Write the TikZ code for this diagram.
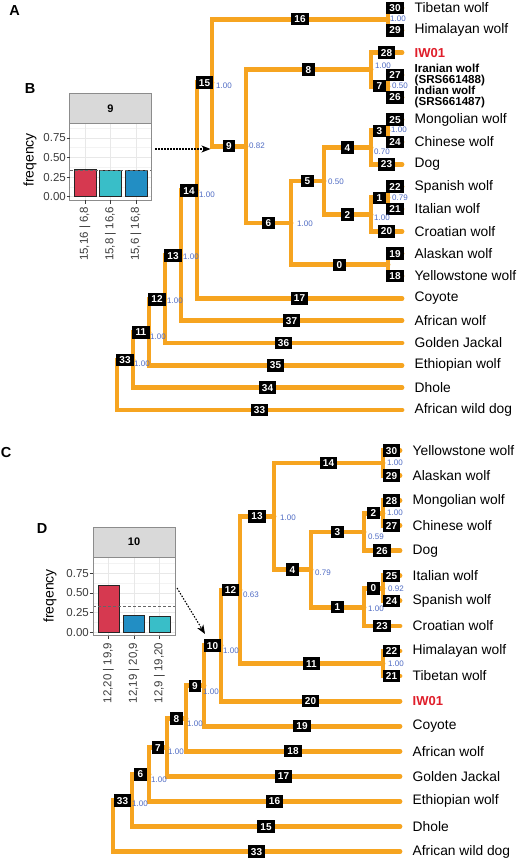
\documentclass[tikz,border=0pt]{standalone}
\usepackage{fontspec}
\setmainfont{Liberation Sans}
\usetikzlibrary{arrows.meta}
\definecolor{branchc}{RGB}{246,164,32}
\definecolor{supc}{RGB}{80,108,196}
\definecolor{iwred}{RGB}{224,30,42}
\definecolor{barred}{RGB}{214,57,80}
\definecolor{barcyan}{RGB}{57,190,200}
\definecolor{barblue}{RGB}{34,142,196}
\definecolor{stripc}{RGB}{217,217,217}
\definecolor{gridc}{RGB}{232,232,232}
\definecolor{gridm}{RGB}{243,243,243}
\definecolor{framec}{RGB}{140,140,140}
\definecolor{axc}{RGB}{60,60,60}
\pgfdeclarelayer{back}
\pgfdeclarelayer{bg}
\pgfsetlayers{back,bg,main}
\newcommand\fss[2]{\fontsize{#1}{#2}\selectfont}
\newcommand\edg[3]{%
  \begin{pgfonlayer}{bg}\draw[branch] (#1) |- (#2);\end{pgfonlayer}%
  \path (#1 |- #2) -- (#2) node[midway, ebox] (L#2) {#3};}
\newcommand\tipl[3][]{\node[tiplab,#1] (T#2) at ([xshift=12.5pt]#2) {#3};}
\tikzset{
  branch/.style={draw=branchc, line width=4.8pt, line cap=round, line join=miter},
  ebox/.style={fill=black, text=white, font=\bfseries\fss{10}{10}, inner xsep=3.3pt, inner ysep=0pt, minimum height=12.5pt, text height=7.2pt, text depth=0pt},
  sup/.style={text=supc, font=\fss{8}{8}, inner sep=0pt, anchor=west},
  tiplab/.style={font=\fss{13.8}{14}, inner sep=0pt, anchor=west},
  iwlab/.style={text=iwred, font=\bfseries\fss{13}{13}},
  acclab/.style={font=\bfseries\fss{11.6}{11}, align=left},
  axlab/.style={text=axc, font=\fss{11.5}{11.5}, inner sep=0pt},
  ylab/.style={font=\fss{14}{14}, inner sep=0pt, rotate=90},
  striplab/.style={font=\bfseries\fss{11}{11}, inner sep=0pt},
  panel/.style={font=\bfseries\fss{14.5}{14.5}, inner sep=0pt},
  bar/.style={draw=black!85, line width=0.8pt},
  refline/.style={draw=black!60, line width=0.8pt, dash pattern=on 3pt off 2pt},
  gridmaj/.style={draw=gridc, line width=0.7pt},
  gridmin/.style={draw=gridm, line width=0.4pt},
  frame/.style={draw=framec, line width=0.6pt},
  tick/.style={draw=axc, line width=0.6pt},
  dotarrow/.style={draw=black, line width=1.1pt, dash pattern=on 1.5pt off 1.5pt, -{Stealth[length=9pt,width=7pt,inset=2.5pt]}}
}
\begin{document}
\begin{tikzpicture}[x=1pt,y=-1pt]
\useasboundingbox (0,0) rectangle (520,861);
\begin{pgfonlayer}{back}\fill[white] (0,0) rectangle (520,861);\end{pgfonlayer}

% ================= Tree A =================
\coordinate (aTib) at (402,8.0);
\coordinate (aHim) at (402,30.33);
\coordinate (aIW)  at (402,52.67);
\coordinate (aIra) at (402,75.0);
\coordinate (aInd) at (402,97.33);
\coordinate (aMon) at (402,119.67);
\coordinate (aChi) at (402,142.0);
\coordinate (aDog) at (402,164.33);
\coordinate (aSpa) at (402,186.67);
\coordinate (aIta) at (402,209.0);
\coordinate (aCro) at (402,231.33);
\coordinate (aAla) at (402,253.67);
\coordinate (aYel) at (402,276.0);
\coordinate (aCoy) at (402,298.33);
\coordinate (aAfw) at (402,320.67);
\coordinate (aGJ)  at (402,343.0);
\coordinate (aEth) at (402,365.33);
\coordinate (aDho) at (402,387.67);
\coordinate (aAWD) at (402,410.0);

\coordinate (a7)  at (388,19.17);
\coordinate (a17) at (388,86.17);
\coordinate (a9)  at (371,69.42);
\coordinate (a15) at (388,130.83);
\coordinate (a13) at (371,147.58);
\coordinate (a16) at (388,197.83);
\coordinate (a14) at (371,214.58);
\coordinate (a11) at (324,181.08);
\coordinate (a12) at (388,264.83);
\coordinate (a10) at (291,222.96);
\coordinate (a8)  at (246,146.19);
\coordinate (a6)  at (212,82.68);
\coordinate (a5)  at (197,190.5);
\coordinate (a4)  at (181,255.6);
\coordinate (a3)  at (165,299.3);
\coordinate (a2)  at (149,332.3);
\coordinate (a1)  at (133,360.0);
\coordinate (a0)  at (117,385.0);

\edg{a0}{a1}{33}
\edg{a0}{aAWD}{33}
\edg{a1}{a2}{11}
\edg{a1}{aDho}{34}
\edg{a2}{a3}{12}
\edg{a2}{aEth}{35}
\edg{a3}{a4}{13}
\edg{a3}{aGJ}{36}
\edg{a4}{a5}{14}
\edg{a4}{aAfw}{37}
\edg{a5}{a6}{15}
\edg{a5}{aCoy}{17}
\edg{a6}{a7}{16}
\edg{a6}{a8}{9}
\edg{a7}{aTib}{30}
\edg{a7}{aHim}{29}
\edg{a8}{a9}{8}
\edg{a8}{a10}{6}
\edg{a9}{aIW}{28}
\edg{a9}{a17}{7}
\edg{a17}{aIra}{27}
\edg{a17}{aInd}{26}
\edg{a10}{a11}{5}
\edg{a10}{a12}{0}
\edg{a12}{aAla}{19}
\edg{a12}{aYel}{18}
\edg{a11}{a13}{4}
\edg{a11}{a14}{2}
\edg{a13}{a15}{3}
\edg{a13}{aDog}{23}
\edg{a15}{aMon}{25}
\edg{a15}{aChi}{24}
\edg{a14}{a16}{1}
\edg{a14}{aCro}{20}
\edg{a16}{aSpa}{22}
\edg{a16}{aIta}{21}

\tipl{aTib}{Tibetan wolf}
\tipl{aHim}{Himalayan wolf}
\tipl[iwlab]{aIW}{IW01}
\tipl[acclab]{aIra}{Iranian wolf\\(SRS661488)}
\tipl[acclab]{aInd}{Indian wolf\\(SRS661487)}
\tipl{aMon}{Mongolian wolf}
\tipl{aChi}{Chinese wolf}
\tipl{aDog}{Dog}
\tipl{aSpa}{Spanish wolf}
\tipl{aIta}{Italian wolf}
\tipl{aCro}{Croatian wolf}
\tipl{aAla}{Alaskan wolf}
\tipl{aYel}{Yellowstone wolf}
\tipl{aCoy}{Coyote}
\tipl{aAfw}{African wolf}
\tipl{aGJ}{Golden Jackal}
\tipl{aEth}{Ethiopian wolf}
\tipl{aDho}{Dhole}
\tipl{aAWD}{African wild dog}

\node[sup] (Sa1)  at (134,364) {1.00};
\node[sup] (Sa2)  at (150,337) {1.00};
\node[sup] (Sa3)  at (167,301) {1.00};
\node[sup] (Sa4)  at (183,257) {1.00};
\node[sup] (Sa5)  at (199,195) {1.00};
\node[sup] (Sa6)  at (216,86) {1.00};
\node[sup] (Sa7)  at (390,19) {1.00};
\node[sup] (Sa8)  at (249,146) {0.82};
\node[sup] (Sa9)  at (375,66) {1.00};
\node[sup] (Sa17) at (392,86) {0.50};
\node[sup] (Sa10) at (297,224) {1.00};
\node[sup] (Sa11) at (328,182) {0.50};
\node[sup] (Sa13) at (374,152) {0.70};
\node[sup] (Sa15) at (391,130) {1.00};
\node[sup] (Sa14) at (374,218) {1.00};
\node[sup] (Sa16) at (392,198) {0.79};

% ================= Chart B =================
\fill[stripc] (69.5,93.5) rectangle (151.5,123);
\draw[frame] (69.5,93.5) rectangle (151.5,123);
\node[striplab] (stB) at (110.5,108.3) {9};
\foreach \v in {128.1,147.7,167.3,186.9} \draw[gridmin] (69.5,\v) -- (151.5,\v);
\foreach \v in {137.9,157.5,177.1,196.7} \draw[gridmaj] (69.5,\v) -- (151.5,\v);
\foreach \x in {85,110.5,136} \draw[gridmaj] (\x,123) -- (\x,200);
\filldraw[bar, fill=barred]  (74,196.7) rectangle (96,169.5);
\filldraw[bar, fill=barcyan] (99.5,196.7) rectangle (121.5,170.2);
\filldraw[bar, fill=barblue] (125,196.7) rectangle (147,170.8);
\draw[refline] (69.5,170.2) -- (151.5,170.2);
\draw[frame] (69.5,123) rectangle (151.5,200);
\foreach \v/\t [count=\i] in {137.9/0.75,157.5/0.50,177.1/0.25,196.7/0.00} {
  \draw[tick] (66.5,\v) -- (69.5,\v);
  \node[axlab, anchor=east] (yB\i) at (66,\v) {\t};
}
\foreach \x/\t [count=\i] in {85/{15,16 | 6,8},110.5/{15,8 | 16,6},136/{15,6 | 16,8}} {
  \draw[tick] (\x,200) -- (\x,203.5);
  \node[axlab, rotate=90, anchor=east] (xB\i) at (\x,206.5) {\t};
}
\node[ylab] (ylB) at (30,160) {freqency};

\coordinate (arrAs) at (155,149);
\coordinate (arrAe) at (210.5,149);
\draw[dotarrow] (arrAs) -- (arrAe);

% ================= Tree C =================
\coordinate (cYel) at (400,450.5);
\coordinate (cAla) at (400,475.56);
\coordinate (cMon) at (400,500.62);
\coordinate (cChi) at (400,525.68);
\coordinate (cDog) at (400,550.74);
\coordinate (cIta) at (400,575.8);
\coordinate (cSpa) at (400,600.86);
\coordinate (cCro) at (400,625.92);
\coordinate (cHim) at (400,650.98);
\coordinate (cTib) at (400,676.04);
\coordinate (cIW)  at (400,701.1);
\coordinate (cCoy) at (400,726.16);
\coordinate (cAfw) at (400,751.22);
\coordinate (cGJ)  at (400,776.28);
\coordinate (cEth) at (400,801.34);
\coordinate (cDho) at (400,826.4);
\coordinate (cAWD) at (400,851.46);

\coordinate (c14) at (383,463.03);
\coordinate (c2)  at (383,513.15);
\coordinate (c3)  at (364,531.95);
\coordinate (c0)  at (383,588.33);
\coordinate (c1)  at (364,607.13);
\coordinate (c4)  at (311,569.54);
\coordinate (c13) at (274,516.29);
\coordinate (c11) at (383,663.51);
\coordinate (c12) at (240,589.9);
\coordinate (c10) at (221,645.5);
\coordinate (c9)  at (204,685.83);
\coordinate (c8)  at (186,718.53);
\coordinate (c7)  at (167,747.4);
\coordinate (c6)  at (149,774.37);
\coordinate (c5)  at (132,800.39);
\coordinate (c0r) at (113,825.9);

\edg{c0r}{c5}{33}
\edg{c0r}{cAWD}{33}
\edg{c5}{c6}{6}
\edg{c5}{cDho}{15}
\edg{c6}{c7}{7}
\edg{c6}{cEth}{16}
\edg{c7}{c8}{8}
\edg{c7}{cGJ}{17}
\edg{c8}{c9}{9}
\edg{c8}{cAfw}{18}
\edg{c9}{c10}{10}
\edg{c9}{cCoy}{19}
\edg{c10}{c12}{12}
\edg{c10}{cIW}{20}
\edg{c12}{c13}{13}
\edg{c12}{c11}{11}
\edg{c11}{cHim}{22}
\edg{c11}{cTib}{21}
\edg{c13}{c14}{14}
\edg{c13}{c4}{4}
\edg{c14}{cYel}{30}
\edg{c14}{cAla}{29}
\edg{c4}{c3}{3}
\edg{c4}{c1}{1}
\edg{c3}{c2}{2}
\edg{c3}{cDog}{26}
\edg{c2}{cMon}{28}
\edg{c2}{cChi}{27}
\edg{c1}{c0}{0}
\edg{c1}{cCro}{23}
\edg{c0}{cIta}{25}
\edg{c0}{cSpa}{24}

\tipl{cYel}{Yellowstone wolf}
\tipl{cAla}{Alaskan wolf}
\tipl{cMon}{Mongolian wolf}
\tipl{cChi}{Chinese wolf}
\tipl{cDog}{Dog}
\tipl{cIta}{Italian wolf}
\tipl{cSpa}{Spanish wolf}
\tipl{cCro}{Croatian wolf}
\tipl{cHim}{Himalayan wolf}
\tipl{cTib}{Tibetan wolf}
\tipl[iwlab]{cIW}{IW01}
\tipl{cCoy}{Coyote}
\tipl{cAfw}{African wolf}
\tipl{cGJ}{Golden Jackal}
\tipl{cEth}{Ethiopian wolf}
\tipl{cDho}{Dhole}
\tipl{cAWD}{African wild dog}

\node[sup] (Sc5)  at (132,804) {1.00};
\node[sup] (Sc6)  at (151,780) {1.00};
\node[sup] (Sc7)  at (168,752) {1.00};
\node[sup] (Sc8)  at (187,724) {1.00};
\node[sup] (Sc9)  at (203,692) {1.00};
\node[sup] (Sc10) at (223,651) {1.00};
\node[sup] (Sc12) at (243,595) {0.63};
\node[sup] (Sc13) at (280,518) {1.00};
\node[sup] (Sc14) at (387,463) {1.00};
\node[sup] (Sc4)  at (315,573) {0.79};
\node[sup] (Sc3)  at (368,537) {0.59};
\node[sup] (Sc2)  at (387,513) {1.00};
\node[sup] (Sc1)  at (368,609) {1.00};
\node[sup] (Sc0)  at (388,589) {0.92};
\node[sup] (Sc11) at (388,664) {1.00};

% ================= Chart D =================
\fill[stripc] (93,527) rectangle (175,557);
\draw[frame] (93,527) rectangle (175,557);
\node[striplab] (stD) at (134,542) {10};
\foreach \v in {563.35,583.05,602.75,622.45} \draw[gridmin] (93,\v) -- (175,\v);
\foreach \v in {573.2,592.9,612.6,632.3} \draw[gridmaj] (93,\v) -- (175,\v);
\foreach \x in {108.5,134,159.5} \draw[gridmaj] (\x,557) -- (\x,635.5);
\filldraw[bar, fill=barred]  (98,632.3) rectangle (119,585.8);
\filldraw[bar, fill=barblue] (123.5,632.3) rectangle (144.5,615.8);
\filldraw[bar, fill=barcyan] (149,632.3) rectangle (170,616);
\draw[refline] (93,606.0) -- (175,606.0);
\draw[frame] (93,557) rectangle (175,635.5);
\foreach \v/\t [count=\i] in {573.2/0.75,592.9/0.50,612.6/0.25,632.3/0.00} {
  \draw[tick] (89.5,\v) -- (93,\v);
  \node[axlab, anchor=east] (yD\i) at (89,\v) {\t};
}
\foreach \x/\t [count=\i] in {108.5/{12,20 | 19,9},134/{12,19 | 20,9},159.5/{12,9 | 19,20}} {
  \draw[tick] (\x,635.5) -- (\x,639);
  \node[axlab, rotate=90, anchor=east] (xD\i) at (\x,642.5) {\t};
}
\node[ylab] (ylD) at (50,596) {freqency};

\coordinate (arrCs) at (177,588);
\coordinate (arrCe) at (205,634);
\draw[dotarrow] (arrCs) -- (arrCe);

% ================= Panel letters =================
\node[panel] (pA) at (14.5,11) {A};
\node[panel] (pB) at (30,89) {B};
\node[panel] (pC) at (6,452.5) {C};
\node[panel] (pD) at (42,529) {D};
\end{tikzpicture}
\end{document}
